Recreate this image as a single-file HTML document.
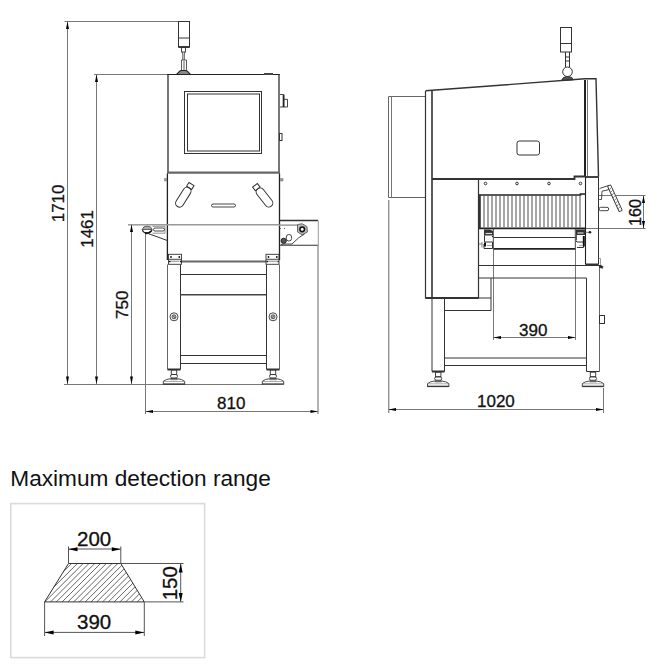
<!DOCTYPE html>
<html><head><meta charset="utf-8">
<style>
html,body{margin:0;padding:0;background:#fff;width:659px;height:664px;overflow:hidden;}
svg{position:absolute;left:0;top:0;}
text{font-family:"Liberation Sans",sans-serif;fill:#111;stroke:#111;stroke-width:0.3;}
</style></head><body>
<svg width="659" height="664" viewBox="0 0 659 664">
<defs>
<marker id="ah" markerWidth="8" markerHeight="4" refX="8" refY="2" orient="auto" markerUnits="userSpaceOnUse">
<path d="M0,0.5 L8,2 L0,3.5 Z" fill="#000"/>
</marker>
</defs>
<!-- ============ LEFT VIEW DIMENSIONS ============ -->
<g stroke="#777" stroke-width="1" fill="none">
  <!-- 1710 -->
  <path d="M64.5,21.5 H178.5"/>
  <path d="M67.5,22 V384"/>
  <!-- 1461 -->
  <path d="M94,74.5 H168"/>
  <path d="M96.5,75 V384"/>
  <!-- 750 -->
  <path d="M128,224.8 H147" stroke="#999" stroke-width="1.5"/>
  <path d="M131.5,225 V384"/>
  <!-- ground -->
  <path d="M64,384.5 H263"/>
  <!-- 810 -->
  <path d="M145.5,233 V414"/>
  <path d="M318,246 V414" stroke="#666"/>
  <path d="M146,411.5 H318"/>
</g>
<g fill="#000">
  <path d="M67.5,21.5 L66,29 L69,29 Z"/>
  <path d="M67.5,384 L66,376.5 L69,376.5 Z"/>
  <path d="M96.5,74.5 L95,82 L98,82 Z"/>
  <path d="M96.5,384 L95,376.5 L98,376.5 Z"/>
  <path d="M131.5,224.5 L130,232 L133,232 Z"/>
  <path d="M131.5,384 L130,376.5 L133,376.5 Z"/>
  <path d="M145.5,411.5 L153,410 L153,413 Z"/>
  <path d="M318,411.5 L310.5,410 L310.5,413 Z"/>
</g>
<g font-size="17">
  <text transform="translate(64,222.3) rotate(-90)">1710</text>
  <text transform="translate(93.3,247.8) rotate(-90)">1461</text>
  <text transform="translate(127.5,319) rotate(-90)">750</text>
  <text x="217" y="409.3">810</text>
</g>

<!-- ============ LEFT VIEW MACHINE ============ -->
<g stroke="#333" stroke-width="1" fill="none">
  <!-- beacon -->
  <rect x="178.5" y="21.5" width="11" height="25.5"/>
  <path d="M178.5,47 H189.5" stroke-width="1.6" stroke="#222"/>
  <path d="M178.5,38 H189.5"/>
  <rect x="181.5" y="47.5" width="4" height="4.5" stroke-width="0.9"/>
  <path d="M182.3,52 L182.8,54 V60 M184.8,52 L184.3,54 V60" stroke-width="0.8"/>
  <path d="M181.5,60 H186.5 M181.5,60 V70.5 M186.5,60 V70.5 M184,61 V70" stroke-width="0.8"/>
  <path d="M176.5,74.5 L179.5,71.5 Q180,70.5 181.5,70.5 H185.5 Q187,70.5 187.5,71.5 L190.5,74.5 Z" fill="#888" stroke="#222" stroke-width="1.1"/>
  <!-- upper cabinet -->
  <path d="M168,172.5 V74.5 M279,74.5 V172.5" stroke-width="1.6" stroke="#555"/><path d="M167.2,74.5 H279.8" stroke-width="1.2" stroke="#222"/>
  <path d="M264,74 H273" stroke-width="2" stroke="#444"/>
  <rect x="184.5" y="91.5" width="77" height="62"/>
  <rect x="187.5" y="94" width="72" height="57"/>
  <!-- knob -->
  <path d="M280,94.5 H283.5 M280,107 H287.5 V99.3 H284" stroke-width="0.9"/>
  <path d="M283.6,94.5 V107" stroke-width="1.8" stroke="#222"/>
  <rect x="279.5" y="133.5" width="2.5" height="7"/>
  <!-- thick divider -->
  <path d="M167,172.6 H280" stroke-width="2.2" stroke="#666"/>
  <!-- lower cabinet -->
  <path d="M167.4,173.5 V260 M279.5,173.5 V260" stroke-width="1.3" stroke="#222"/>
  <path d="M164.5,178.5 H166.5 V181 H164.5 Z" fill="#999" stroke="#888" stroke-width="0.7"/>
  <path d="M280.5,178.5 H283 V181 H280.5 Z" fill="#999" stroke="#888" stroke-width="0.7"/>
  <!-- handles -->
  <g transform="translate(183.3,197.2) rotate(32)">
    <rect x="-4" y="-11" width="8" height="22" rx="4"/>
    <rect x="-3" y="-15.5" width="6" height="4.5"/>
  </g>
  <g transform="translate(264.5,197.5) rotate(-38)">
    <rect x="-4" y="-11" width="8" height="22" rx="4"/>
    <rect x="-3" y="-15.5" width="6" height="4.5"/>
  </g>
  <rect x="211.5" y="204" width="24" height="3" rx="1.5" stroke-width="0.9"/>
  <!-- conveyor line -->
  <path d="M147,224.8 H279" stroke="#999" stroke-width="1.5"/><path d="M279,225.1 H297.5" stroke="#999" stroke-width="1.5"/>
  <!-- left conveyor -->
  <path d="M142.3,229.5 A4.9,4 0 0 1 152,229.5 Z" fill="#aaa" stroke="#666"/>
  <path d="M142.3,229.5 A4.9,4 0 0 0 152,229.5" stroke="#222" stroke-width="1.3"/>
  <path d="M145,232.8 Q148,234.5 151,231" stroke="#111" stroke-width="1.6"/>
  <path d="M152.5,226.3 H165 V233.2 H152.5" stroke="#777" stroke-width="0.8"/>
  <rect x="153.5" y="228" width="11" height="3" rx="1.5" stroke-width="0.9"/>
  <path d="M147.5,233.3 L167.5,240.6"/>
  <!-- right conveyor box -->
  <path d="M279.5,220.5 H318" stroke-width="1.3"/>
  <path d="M279.5,245.3 H318" stroke-width="1.1"/>
  <path d="M318.3,220.5 V246" stroke="#999"/>
  <path d="M297.5,224.5 L302.2,223.8 L306.9,226.5 L307.4,232 L302.2,234.8 L297.5,232 Z" fill="#bbb" stroke="#666"/>
  <circle cx="302.2" cy="229.3" r="2.3" fill="#fff" stroke="#111" stroke-width="1.6"/>
  <circle cx="283.7" cy="240.8" r="2.6" fill="#555" stroke="#222"/>
  <path d="M281,244.5 L284,244 H292 L299,237.5 L304.5,234" stroke-width="0.9"/>
  <rect x="286.3" y="234.5" width="5.3" height="6.5" rx="2.5" stroke-width="0.9"/>
  <circle cx="280.3" cy="228.5" r="0.6" fill="#444" stroke="none"/>
  <circle cx="284.5" cy="228.5" r="0.6" fill="#444" stroke="none"/>
  <!-- brackets -->
  <path d="M181.5,261.4 H266" stroke-width="2" stroke="#666"/>
  <g>
  <rect x="168.5" y="254.3" width="13" height="10" stroke-width="0.9"/>
  <path d="M168.5,259.3 H181.5" stroke-width="0.9"/>
  <path d="M170.5,261.3 H179.5" stroke-width="1.4" stroke="#aaa"/>
  <circle cx="171" cy="257" r="0.9" fill="#111" stroke="none"/>
  <circle cx="179.3" cy="257" r="0.9" fill="#111" stroke="none"/>
  <path d="M169,261.5 H170.5 M180,261.5 H181.3" stroke-width="1.6" stroke="#111"/>
  </g>
  <g transform="translate(97.5,0)">
  <rect x="168.5" y="254.3" width="13" height="10" stroke-width="0.9"/>
  <path d="M168.5,259.3 H181.5" stroke-width="0.9"/>
  <path d="M170.5,261.3 H179.5" stroke-width="1.4" stroke="#aaa"/>
  <circle cx="171" cy="257" r="0.9" fill="#111" stroke="none"/>
  <circle cx="179.3" cy="257" r="0.9" fill="#111" stroke="none"/>
  <path d="M169,261.5 H170.5 M180,261.5 H181.3" stroke-width="1.6" stroke="#111"/>
  </g>
  <!-- legs -->
  <path d="M167.5,264.5 V369.5 M279.5,264.5 V369.5" stroke="#666"/>
  <path d="M180.5,264.5 V369.5 M266.5,264.5 V369.5" stroke="#333"/>
  <path d="M167.5,369.5 H180.5 M266.5,369.5 H279.5" stroke-width="2"/>
  <path d="M180.5,274.5 H266.5 M180.5,355.5 H266.5 M180.5,363.5 H266.5"/>
  <path d="M180.5,294.8 H266.5" stroke-width="1.4" stroke="#444"/>
  <circle cx="174" cy="316.8" r="4" stroke-width="0.9"/>
  <circle cx="174" cy="316.8" r="2" stroke-width="0.8" fill="#bbb"/>
  <path d="M172.8,315.6 L175.2,318" stroke-width="0.7"/>
  <circle cx="273" cy="316.8" r="4" stroke-width="0.9"/>
  <circle cx="273" cy="316.8" r="2" stroke-width="0.8" fill="#bbb"/>
  <path d="M271.8,318 L274.2,315.6" stroke-width="0.7"/>
  <!-- feet -->
  <g transform="translate(174,369.5)">
    <rect x="-2.7" y="0.4" width="5.4" height="4.6" stroke-width="0.9"/>
    <rect x="-3.5" y="5" width="7" height="3.5" rx="1.7" stroke-width="0.9"/>
    <path d="M-2.5,8.5 H2.5 L3.5,10.3 H-3.5 Z" fill="#999" stroke="#777" stroke-width="0.6"/>
    <path d="M-10.7,15 V11.8 Q-8,9.6 -3.5,9.2 H3.5 Q8,9.6 10.7,11.8 V15" stroke-width="0.9"/>
    <path d="M-10.2,12 H10.2" stroke-width="0.7" stroke="#888"/>
    <path d="M-10.7,14.6 H10.7" stroke-width="1.4" stroke="#333"/>
  </g>
  <g transform="translate(273,369.5)">
    <rect x="-2.7" y="0.4" width="5.4" height="4.6" stroke-width="0.9"/>
    <rect x="-3.5" y="5" width="7" height="3.5" rx="1.7" stroke-width="0.9"/>
    <path d="M-2.5,8.5 H2.5 L3.5,10.3 H-3.5 Z" fill="#999" stroke="#777" stroke-width="0.6"/>
    <path d="M-10.7,15 V11.8 Q-8,9.6 -3.5,9.2 H3.5 Q8,9.6 10.7,11.8 V15" stroke-width="0.9"/>
    <path d="M-10.2,12 H10.2" stroke-width="0.7" stroke="#888"/>
    <path d="M-10.7,14.6 H10.7" stroke-width="1.4" stroke="#333"/>
  </g>

</g>

<!-- ============ RIGHT VIEW ============ -->
<g stroke="#777" stroke-width="1" fill="none">
  <path d="M388.8,200 V413" stroke="#666"/>
  <path d="M603.5,388 V413"/>
  <path d="M389,409.5 H603"/>
  <path d="M493.5,249 V340 M575.5,249 V340"/>
  <path d="M494,337.5 H575"/>
  <path d="M599,195.5 H645.5 M586,228.5 H645.5"/>
  <path d="M643.5,196 V228"/>
</g>
<g fill="#000">
  <path d="M388.5,409.5 L396,408 L396,411 Z"/>
  <path d="M603.5,409.5 L596,408 L596,411 Z"/>
  <path d="M493.5,337.5 L501,336 L501,339 Z"/>
  <path d="M575.5,337.5 L568,336 L568,339 Z"/>
  <path d="M643.5,195.5 L642,203 L645,203 Z"/>
  <path d="M643.5,228.5 L642,221 L645,221 Z"/>
</g>
<g font-size="17">
  <text x="477" y="406.5">1020</text>
  <text x="519" y="335.5">390</text>
  <text transform="translate(640.8,226) rotate(-90)" font-size="16.2">160</text>
</g>
<g stroke="#333" stroke-width="1" fill="none">
  <!-- beacon -->
  <rect x="560.5" y="27.5" width="11" height="24.5"/>
  <path d="M560.5,43.5 H571.5"/>
  <path d="M565.5,52 V67 M569.5,52 V67 M565.5,57 H569.5 M565.5,61 H569.5"/>
  <circle cx="567.5" cy="71.8" r="4.8"/>
  <path d="M561.5,80.5 Q562.5,76.5 567.5,76.5 Q572.5,76.5 573.5,79.8 Z" fill="#555"/>
  <!-- side box -->
  <path d="M425.5,96.5 H388.5 V197.5 H425.5" stroke="#666"/>
  <path d="M391.5,97 V197" stroke="#777"/>
  <!-- cabinet outer -->
  <path d="M425.5,91 V298 H478.5 V179" stroke-width="1.2"/><path d="M425.5,298 H478.5" stroke-width="1.8"/>
  <path d="M432,91 V298" stroke-width="1.6"/>
  <path d="M425.5,90.8 L585,78.8 H596 L598.5,176.5" stroke-width="1.4"/>
  <path d="M585,80 V176.5" stroke-width="2" stroke="#222"/><path d="M587.5,80 V176.5" stroke-width="1" stroke="#777"/>
  <path d="M585,177 H598.5" stroke-width="2" stroke="#444"/>
  <rect x="517" y="141" width="22.5" height="14" rx="2.2"/>
  <!-- upper plate line -->
  <path d="M432,179 H574.5 V176.5 H586" stroke-width="1.8"/>
  <circle cx="485.5" cy="183.5" r="1.3"/>
  <circle cx="517" cy="183.5" r="1.3"/>
  <circle cx="549" cy="183.5" r="1.3"/>
  <circle cx="580.5" cy="183.5" r="1.3"/>
  <!-- right frame -->
  <path d="M585.5,177 V264.5" stroke="#222" stroke-width="1.1"/>
  <path d="M598.5,176.5 V264.5"/>
  <path d="M585.5,264.5 H598.5" stroke-width="2"/>
  <path d="M599.5,266 V371.5" stroke="#666"/><path d="M586.5,278 V371.5 M586.5,371.5 H599.5"/>
  <rect x="599.5" y="315.5" width="5" height="8"/>
  <path d="M598.8,258.5 H600.5 V265" stroke-width="0.8" stroke="#888"/><path d="M599.5,265.5 L603,266.5 L602.5,268.3 L599.5,267.5 Z" fill="#222" stroke="#222" stroke-width="0.6"/>
  <!-- slats -->
  <path d="M478.5,195 H580.5 V194 H585.5 M478.5,228.3 H585.5" stroke-width="1.7" stroke="#222"/>
  <path d="M479.5,195 V228.3" stroke-width="2.6" stroke="#333"/>
  <g stroke="#777" stroke-width="1.3"><path d="M484,196 V227.5"/><path d="M488,196 V227.5"/><path d="M492,196 V227.5"/><path d="M496,196 V227.5"/><path d="M500,196 V227.5"/><path d="M504,196 V227.5"/><path d="M508,196 V227.5"/><path d="M512,196 V227.5"/><path d="M516,196 V227.5"/><path d="M520,196 V227.5"/><path d="M524,196 V227.5"/><path d="M528,196 V227.5"/><path d="M532,196 V227.5"/><path d="M536,196 V227.5"/><path d="M540,196 V227.5"/><path d="M544,196 V227.5"/><path d="M548,196 V227.5"/><path d="M552,196 V227.5"/><path d="M556,196 V227.5"/><path d="M560,196 V227.5"/><path d="M564,196 V227.5"/><path d="M568,196 V227.5"/><path d="M572,196 V227.5"/><path d="M576,196 V227.5"/><path d="M580,196 V227.5"/></g>
  <!-- roller -->
  <path d="M493.5,237.5 H575.5" stroke-width="1.1"/>
  <path d="M493.5,248.8 H575.5" stroke-width="1.8" stroke="#222"/>
  <path d="M493.3,229 V249 M575.3,229 V249" stroke="#444"/>
  <!-- left bearing -->
  <path d="M484,229.5 L490,229.5 L493,231 V235.5 H484 Z" fill="#333" stroke="none"/>
  <path d="M485.5,233.5 H492" stroke="#ddd" stroke-width="1.2"/>
  <path d="M484.5,235.5 V242 M492,236 L493,237 M485,242 H492.5 V248.5 H484 V244" stroke-width="1"/>
  <path d="M485,242.5 V246.5" stroke-width="2" stroke="#111"/>
  <path d="M482,242 V247.5 M479,244 H482" stroke-width="0.8" stroke="#666"/>
  <path d="M487,245.5 H492" stroke="#aaa" stroke-width="1.2"/>
  <!-- right bearing -->
  <path d="M576,229.5 H585 V235 H576 Z" fill="#333" stroke="none"/>
  <path d="M577.5,233 H583.5" stroke="#ddd" stroke-width="1.2"/>
  <path d="M576.3,235 V240.5 M576,241 L577,242 M577,242 H583.5 V247.5 H577" stroke-width="1"/>
  <path d="M583.8,236 V246.5" stroke-width="2" stroke="#111"/>
  <path d="M579,245.5 H583" stroke="#aaa" stroke-width="1.2"/>
  <path d="M585.5,232.3 H589" stroke="#777" stroke-width="0.9"/>
  <circle cx="590" cy="232.3" r="1.3" fill="#222" stroke="none"/>
  <!-- lower frame -->
  <path d="M478.5,265.5 H601.5 M478.5,278 H586.5"/>
  <path d="M444.5,310.5 H491 V278 M478.5,298 H491"/>
  <path d="M432,298 V371.5 H444.5 V298" />
  <path d="M432,371.5 H444.5" stroke-width="2"/>
  <path d="M444.5,358 H586.5 M444.5,365.5 H586.5"/>
  <!-- feet -->
  <g transform="translate(438.2,371.8)">
    <rect x="-2.7" y="0.4" width="5.4" height="4.6" stroke-width="0.9"/>
    <rect x="-3.5" y="5" width="7" height="3.5" rx="1.7" stroke-width="0.9"/>
    <path d="M-2.5,8.5 H2.5 L3.5,10.3 H-3.5 Z" fill="#999" stroke="#777" stroke-width="0.6"/>
    <path d="M-10.7,15 V11.8 Q-8,9.6 -3.5,9.2 H3.5 Q8,9.6 10.7,11.8 V15" stroke-width="0.9"/>
    <path d="M-10.2,12 H10.2" stroke-width="0.7" stroke="#888"/>
    <path d="M-10.7,14.6 H10.7" stroke-width="1.4" stroke="#333"/>
  </g>
  <g transform="translate(593,371.8)">
    <rect x="-2.7" y="0.4" width="5.4" height="4.6" stroke-width="0.9"/>
    <rect x="-3.5" y="5" width="7" height="3.5" rx="1.7" stroke-width="0.9"/>
    <path d="M-2.5,8.5 H2.5 L3.5,10.3 H-3.5 Z" fill="#999" stroke="#777" stroke-width="0.6"/>
    <path d="M-10.7,15 V11.8 Q-8,9.6 -3.5,9.2 H3.5 Q8,9.6 10.7,11.8 V15" stroke-width="0.9"/>
    <path d="M-10.2,12 H10.2" stroke-width="0.7" stroke="#888"/>
    <path d="M-10.7,14.6 H10.7" stroke-width="1.4" stroke="#333"/>
  </g>

  <!-- handle -->
  <path d="M599.5,188.8 L600.3,188.3 L609,185.3 L608.3,189.8 L602,191.2 L601.5,199.5 L599.3,199.5" stroke-width="0.9"/>
  <g transform="translate(614.9,198.3) rotate(-24.6)">
    <rect x="-1.7" y="-14" width="3.4" height="28" rx="0.8" fill="#fff" stroke="#333" stroke-width="0.9"/>
    <path d="M-1.7,-10 L1.7,-11.5 M-1.7,-7 L1.7,-8.5 M-1.7,-4 L1.7,-5.5 M-1.7,-1 L1.7,-2.5 M-1.7,2 L1.7,0.5 M-1.7,5 L1.7,3.5 M-1.7,8 L1.7,6.5 M-1.7,11 L1.7,9.5" stroke="#666" stroke-width="0.7"/>
  </g>
  <rect x="599" y="207.3" width="9.7" height="3.4" rx="1.7" stroke-width="0.9"/>
</g>

<!-- ============ BOTTOM ============ -->
<text x="10.3" y="485.6" font-size="22.8" textLength="260.5" lengthAdjust="spacingAndGlyphs" style="fill:#111;stroke:none">Maximum detection range</text>
<rect x="10.8" y="503.6" width="193.8" height="154" fill="none" stroke="#dadada" stroke-width="1.6"/>
<defs>
<clipPath id="trap"><path d="M68.5,563.5 H120.8 L144.3,601.9 H44.6 Z"/></clipPath>
</defs>
<g clip-path="url(#trap)" stroke="#555" stroke-width="0.9"><path d="M25.34,604 L70.34,559"/><path d="M31.12,604 L76.12,559"/><path d="M36.90,604 L81.90,559"/><path d="M42.68,604 L87.68,559"/><path d="M48.46,604 L93.46,559"/><path d="M54.24,604 L99.24,559"/><path d="M60.02,604 L105.02,559"/><path d="M65.80,604 L110.80,559"/><path d="M71.58,604 L116.58,559"/><path d="M77.36,604 L122.36,559"/><path d="M83.14,604 L128.14,559"/><path d="M88.92,604 L133.92,559"/><path d="M94.70,604 L139.70,559"/><path d="M100.48,604 L145.48,559"/><path d="M106.26,604 L151.26,559"/><path d="M112.04,604 L157.04,559"/><path d="M117.82,604 L162.82,559"/><path d="M123.60,604 L168.60,559"/><path d="M129.38,604 L174.38,559"/><path d="M135.16,604 L180.16,559"/><path d="M140.94,604 L185.94,559"/><path d="M146.72,604 L191.72,559"/><path d="M152.50,604 L197.50,559"/><path d="M158.28,604 L203.28,559"/></g>
<g stroke="#333" stroke-width="1" fill="none">
  <path d="M68.5,563.5 H120.8 L144.3,601.9 H44.6 Z"/>
</g>
<g stroke="#555" stroke-width="1" fill="none">
  <path d="M68.5,546.5 V563 M120.8,546.5 V563"/>
  <path d="M69,549 H120.5"/>
  <path d="M121,563.5 H183.5 M144.5,601.9 H183.5"/>
  <path d="M180.7,564 V601.5"/>
  <path d="M44.6,602 V636 M144.3,602 V636"/>
  <path d="M45,632.4 H144"/>
</g>
<g fill="#000">
  <path d="M68.5,549.2 L77.5,547.2 L77.5,551.2 Z"/>
  <path d="M120.8,549.2 L111.8,547.2 L111.8,551.2 Z"/>
  <path d="M180.7,563.5 L178.7,572.5 L182.7,572.5 Z"/>
  <path d="M180.7,601.9 L178.7,592.9 L182.7,592.9 Z"/>
  <path d="M44.6,632.4 L53.6,630.4 L53.6,634.4 Z"/>
  <path d="M144.3,632.4 L135.3,630.4 L135.3,634.4 Z"/>
</g>
<g font-size="20.5">
  <text x="77" y="545.5">200</text>
  <text x="77" y="629.3">390</text>
  <text transform="translate(176.8,600.3) rotate(-90)">150</text>
</g>
</svg>
</body></html>
